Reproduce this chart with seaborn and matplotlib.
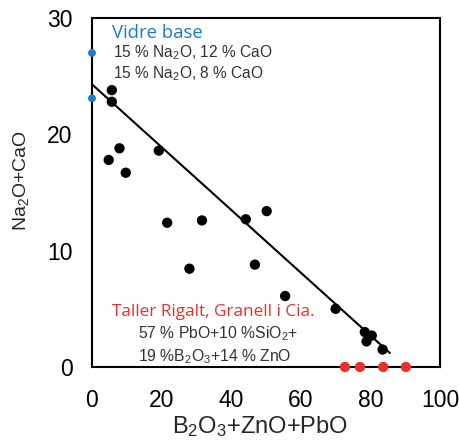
import matplotlib
matplotlib.use("Agg")
import matplotlib.pyplot as plt
import seaborn as sns
import pandas as pd

# Data
sample_x = [5.7, 5.7, 7.9, 4.8, 9.7, 19.2, 21.6, 31.6, 44.2, 50.2, 28.0, 46.8, 55.5, 70.0, 78.4, 80.4, 78.9, 83.5]
sample_y = [23.8, 22.8, 18.8, 17.8, 16.7, 18.6, 12.4, 12.6, 12.7, 13.4, 8.45, 8.8, 6.1, 5.0, 3.0, 2.7, 2.2, 1.5]
base_x = [0, 0]
base_y = [27.0, 23.1]
taller_x = [72.7, 77.0, 83.7, 90.2]
taller_y = [0, 0, 0, 0]
fit_x = [0, 85.6]
fit_y = [24.3, 1.2]
xticks = [0, 20, 40, 60, 80, 100]
yticks = [0, 10, 20, 30]

sns.set_style("white")
plt.rcParams['mathtext.default'] = 'regular'
plt.rcParams['font.family'] = ['Liberation Sans', 'DejaVu Sans']

fig = plt.figure(figsize=(4.6, 4.43), dpi=100)
ax = fig.add_axes([0.2, 0.1716, 0.7565, 0.7877])

BLUE = "#1b7cc9"
RED = "#ea2f2a"
GRAY = "#333333"

sns.lineplot(x=fit_x, y=fit_y, ax=ax, color="black", linewidth=1.5)
sns.scatterplot(x=sample_x, y=sample_y, ax=ax, color="black", s=55, edgecolor="none", zorder=3)
sns.scatterplot(x=base_x, y=base_y, ax=ax, color=BLUE, s=32, edgecolor="none", zorder=4, clip_on=False)
sns.scatterplot(x=taller_x, y=taller_y, ax=ax, color=RED, s=55, edgecolor="none", zorder=4, clip_on=False)

ax.set_xlim(0, 100)
ax.set_ylim(0, 30)
ax.set_xticks(xticks)
ax.set_yticks(yticks)
ax.tick_params(axis='both', direction='out', width=1.3, labelsize=16.5, colors='black')
ax.tick_params(axis='x', length=8, pad=8)
ax.tick_params(axis='y', length=9, pad=5)
for sp in ax.spines.values():
    sp.set_color('black')
    sp.set_linewidth(1.5)

ax.set_xlabel(r"B$_2$O$_3$+ZnO+PbO", fontsize=17)
ax.set_ylabel(r"Na$_2$O+CaO", fontsize=14)
ax.xaxis.set_label_coords(0.483, -0.135)
ax.yaxis.set_label_coords(-0.175, 0.535)

ax.text(5.8, 28.7, "Vidre base", color=BLUE, fontsize=13.3, family=['Open Sans', 'DejaVu Sans'], va='center')
ax.text(6.0, 27.0, r"15 % Na$_2$O, 12 % CaO", color=GRAY, fontsize=11.2, va='center')
ax.text(6.0, 25.2, r"15 % Na$_2$O, 8 % CaO", color=GRAY, fontsize=11.2, va='center')

ax.text(5.8, 4.7, "Taller Rigalt, Granell i Cia.", color=RED, fontsize=12.3, family=['Open Sans', 'DejaVu Sans'], va='center')
ax.text(13.2, 2.9, r"57 % PbO+10 %SiO$_2$+", color=GRAY, fontsize=11.3, va='center')
ax.text(13.2, 0.85, r"19 %B$_2$O$_3$+14 % ZnO", color=GRAY, fontsize=11.3, va='center')

fig.savefig("out.png", dpi=100)
